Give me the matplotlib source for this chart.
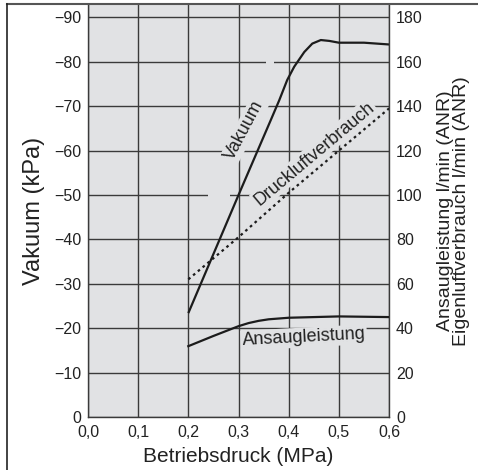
import matplotlib
matplotlib.use("Agg")
import matplotlib.pyplot as plt
from matplotlib.lines import Line2D
from matplotlib.patches import Rectangle
from matplotlib.ticker import FuncFormatter

plt.rcParams['font.family'] = ['Liberation Sans', 'DejaVu Sans']

# Operating pressure (MPa) and measured curves
vac_p = [0.20, 0.25, 0.30, 0.34, 0.364, 0.381, 0.397, 0.411, 0.431, 0.447, 0.464, 0.481, 0.50, 0.55, 0.60]
vac_kpa = [-23.4, -36.7, -50.0, -60.5, -66.8, -71.3, -75.9, -78.9, -82.2, -84.1, -84.9, -84.7, -84.3, -84.3, -83.9]

air_p = [0.20, 0.30, 0.40, 0.50, 0.60]
air_lmin = [62, 81, 101, 120, 139]

suc_p = [0.20, 0.25, 0.30, 0.32, 0.34, 0.36, 0.40, 0.50, 0.60]
suc_lmin = [31.9, 36.5, 40.9, 42.3, 43.3, 44.0, 44.7, 45.3, 45.0]

x_ticks = [0.0, 0.1, 0.2, 0.3, 0.4, 0.5, 0.6]
left_ticks = [0, -10, -20, -30, -40, -50, -60, -70, -80, -90]
right_ticks = [0, 20, 40, 60, 80, 100, 120, 140, 160, 180]

bg = '#e1e2e4'
ink = '#1c1c1c'
txt = '#222222'
grid_c = '#3a3a3a'

fig = plt.figure(figsize=(4.78, 4.70), dpi=100)
ax = fig.add_axes([0.184, 0.1128, 0.630, 0.8776])
ax.set_facecolor(bg)
ax.set_xlim(0, 0.6)
ax.set_ylim(0, -92.9)
ax.set_xticks(x_ticks)
ax.set_yticks(left_ticks)
ax.xaxis.set_major_formatter(FuncFormatter(lambda v, _: f"{v:.1f}".replace('.', ',')))
ax.yaxis.set_major_formatter(FuncFormatter(lambda v, _: "0" if v == 0 else f"\u2212{abs(v):.0f}"))
ax.tick_params(axis='both', length=0, labelsize=11.5, colors=txt)
ax.tick_params(axis='y', pad=5)
ax.tick_params(axis='x', pad=6)
ax.grid(True, color=grid_c, linewidth=1.0)
ax.set_axisbelow(True)
for s in ['top', 'right']:
    ax.spines[s].set_visible(False)
for s in ['left', 'bottom']:
    ax.spines[s].set_color(grid_c)
    ax.spines[s].set_linewidth(1.0)

ax2 = ax.twinx()
ax2.set_ylim(0, 185.8)
ax2.set_yticks(right_ticks)
ax2.tick_params(axis='y', length=0, labelsize=11.5, colors=txt, pad=5)
for s in ['top', 'left', 'bottom']:
    ax2.spines[s].set_visible(False)
ax2.spines['right'].set_color(grid_c)
ax2.spines['right'].set_linewidth(1.0)

# small breaks in the grid lines
ax.add_patch(Rectangle((0.354, -81.0), 0.016, 2.0, facecolor=bg, edgecolor='none', zorder=1.5))
ax.add_patch(Rectangle((0.240, -51.0), 0.044, 2.0, facecolor=bg, edgecolor='none', zorder=1.5))

ax.plot(vac_p, vac_kpa, color=ink, linewidth=1.6, zorder=4, solid_capstyle='butt')
ax2.plot(air_p, air_lmin, color=ink, linewidth=1.6, linestyle=(0, (1.2, 1.6)), zorder=4)
ax2.plot(suc_p, suc_lmin, color=ink, linewidth=1.6, zorder=4)

box = dict(facecolor=bg, edgecolor='none', pad=1.0)
ax.text(0.312, -64.6, "Vakuum", rotation=62, ha='center', va='center', fontsize=13,
        color=txt, bbox=box, zorder=3)
ax.text(0.451, -59.3, "Druckluftverbrauch", rotation=40, ha='center', va='center', fontsize=13,
        color=txt, bbox=box, zorder=3)
ax.text(0.43, -17.9, "Ansaugleistung", rotation=3, ha='center', va='center', fontsize=13,
        color=txt, bbox=box, zorder=3)

ax.set_xlabel("Betriebsdruck (MPa)", fontsize=15, color=txt, labelpad=5)
ax.set_ylabel("Vakuum (kPa)", fontsize=17, color=txt, labelpad=6)
ax2.set_ylabel("Ansaugleistung l/min (ANR)\nEigenluftverbrauch l/min (ANR)", fontsize=14,
               color=txt, labelpad=10, linespacing=0.95)

# outer frame lines
fig.add_artist(Line2D([7 / 478, 1.0], [1 - 4 / 470, 1 - 4 / 470], color='#555555', linewidth=1.5))
fig.add_artist(Line2D([7 / 478, 7 / 478], [0.0, 1 - 4 / 470], color='#222222', linewidth=1.2))

fig.savefig("out.png", dpi=100)
